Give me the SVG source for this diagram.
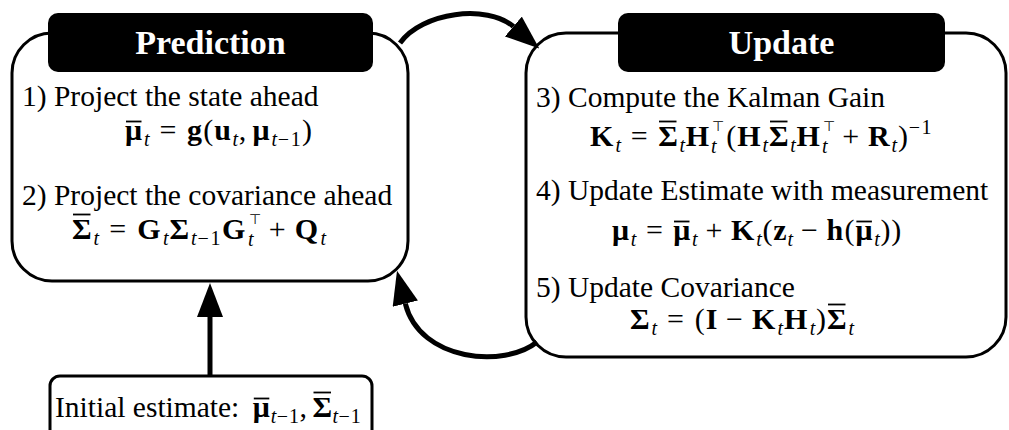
<svg xmlns="http://www.w3.org/2000/svg" width="1009" height="430" viewBox="0 0 1009 430">
  <defs>
    <style>
      .box { fill: #fff; stroke: #000; stroke-width: 3; }
      .hdr { fill: #000; }
      .title { font-family: "Liberation Serif", "Times New Roman", serif; font-weight: bold; font-size: 34px; fill: #fff; text-anchor: middle; }
      .txt { font-family: "Liberation Serif", "Times New Roman", serif; font-size: 29.5px; fill: #000; }
      .m { font-family: "Liberation Serif", "Times New Roman", serif; font-size: 30px; fill: #000; }
      .b { font-weight: bold; }
      .s { font-size: 20px; font-style: italic; }
      .sn { font-size: 20px; }
      .tp { font-family: "DejaVu Sans", sans-serif; font-size: 14px; }
      .bar { stroke: #000; stroke-width: 1.8; }
      .arr { fill: none; stroke: #000; stroke-width: 5; marker-end: url(#head); }
    </style>
    <marker id="head" markerUnits="userSpaceOnUse" viewBox="0 0 34 26" markerWidth="34" markerHeight="26" refX="0" refY="13" orient="auto">
      <path d="M0,0 L34,13 L0,26 Z" fill="#000"/>
    </marker>
  </defs>

  <!-- prediction step -->
  <g id="prediction">
    <rect class="box" x="12" y="33" width="396" height="248" rx="40" ry="40"/>
    <rect class="hdr" x="48" y="13" width="325" height="59" rx="10" ry="10"/>
    <text class="title" x="210.5" y="54">Prediction</text>
    <text class="txt" x="22" y="106">1) Project the state ahead</text>
    <text class="m">
      <tspan class="b" x="125" y="140">μ</tspan><tspan class="s" x="144" y="146">t</tspan>
      <tspan x="159.4" y="140">=</tspan>
      <tspan class="b" x="186.9" y="140">g</tspan><tspan x="203.3" y="140">(</tspan><tspan class="b" x="214.2" y="140">u</tspan><tspan class="s" x="232.5" y="146">t</tspan><tspan x="238.8" y="140">,</tspan>
      <tspan class="b" x="252.4" y="140">μ</tspan><tspan class="s" x="271.4" y="146">t</tspan><tspan class="sn" x="277.8" y="146">−</tspan><tspan class="sn" x="290.7" y="146">1</tspan><tspan x="302.1" y="140">)</tspan>
    </text>
    <line class="bar" x1="126" y1="121.5" x2="141.5" y2="121.5"/>
    <text class="txt" x="22" y="205">2) Project the covariance ahead</text>
    <text class="m">
      <tspan class="b" x="72" y="239">Σ</tspan><tspan class="s" x="93.6" y="245">t</tspan>
      <tspan x="109.2" y="239">=</tspan>
      <tspan class="b" x="137.2" y="239">G</tspan><tspan class="s" x="163" y="245">t</tspan>
      <tspan class="b" x="169.4" y="239">Σ</tspan><tspan class="s" x="191" y="245">t</tspan><tspan class="sn" x="197.4" y="245">−</tspan><tspan class="sn" x="210.5" y="245">1</tspan>
      <tspan class="b" x="222.1" y="239">G</tspan><tspan class="s" x="248" y="246">t</tspan><tspan class="tp" x="249" y="224">⊤</tspan>
      <tspan x="268.7" y="239">+</tspan>
      <tspan class="b" x="294.8" y="239">Q</tspan><tspan class="s" x="320.6" y="245">t</tspan>
    </text>
    <line class="bar" x1="73" y1="214.5" x2="90.5" y2="214.5"/>
  </g>

  <!-- update step -->
  <g id="update">
    <rect class="box" x="526" y="33" width="480" height="324" rx="40" ry="40"/>
    <rect class="hdr" x="618" y="13" width="327" height="59" rx="10" ry="10"/>
    <text class="title" x="781.5" y="54">Update</text>
    <text class="txt" x="536" y="107">3) Compute the Kalman Gain</text>
    <text class="m">
      <tspan class="b" x="590" y="146">K</tspan><tspan class="s" x="615.4" y="152">t</tspan>
      <tspan x="630.7" y="146">=</tspan>
      <tspan class="b" x="658.2" y="146">Σ</tspan><tspan class="s" x="679.4" y="152">t</tspan>
      <tspan class="b" x="685.7" y="146">H</tspan><tspan class="s" x="711.1" y="153">t</tspan><tspan class="tp" x="712.1" y="131">⊤</tspan>
      <tspan x="726.3" y="146">(</tspan><tspan class="b" x="737.2" y="146">H</tspan><tspan class="s" x="762.6" y="152">t</tspan>
      <tspan class="b" x="768.9" y="146">Σ</tspan><tspan class="s" x="790.2" y="152">t</tspan>
      <tspan class="b" x="796.5" y="146">H</tspan><tspan class="s" x="821.9" y="153">t</tspan><tspan class="tp" x="822.9" y="131">⊤</tspan>
      <tspan x="842.2" y="146">+</tspan>
      <tspan class="b" x="867.9" y="146">R</tspan><tspan class="s" x="891.5" y="152">t</tspan><tspan x="897.9" y="146">)</tspan>
      <tspan class="sn" x="908.8" y="134">−</tspan><tspan class="sn" x="921.6" y="134">1</tspan>
    </text>
    <line class="bar" x1="659" y1="121.5" x2="676.5" y2="121.5"/>
    <line class="bar" x1="770" y1="121.5" x2="787.5" y2="121.5"/>
    <text class="txt" x="536" y="200">4) Update Estimate with measurement</text>
    <text class="m">
      <tspan class="b" x="612" y="240">μ</tspan><tspan class="s" x="630.8" y="246">t</tspan>
      <tspan x="646" y="240">=</tspan>
      <tspan class="b" x="673.2" y="240">μ</tspan><tspan class="s" x="692" y="246">t</tspan>
      <tspan x="705.5" y="240">+</tspan>
      <tspan class="b" x="731" y="240">K</tspan><tspan class="s" x="756.2" y="246">t</tspan><tspan x="762.4" y="240">(</tspan>
      <tspan class="b" x="773.2" y="240">z</tspan><tspan class="s" x="787.6" y="246">t</tspan>
      <tspan x="801.1" y="240">−</tspan>
      <tspan class="b" x="826.6" y="240">h</tspan><tspan x="844.6" y="240">(</tspan>
      <tspan class="b" x="855.4" y="240">μ</tspan><tspan class="s" x="874.2" y="246">t</tspan><tspan x="880.5" y="240">)</tspan><tspan x="891.3" y="240">)</tspan>
    </text>
    <line class="bar" x1="674" y1="221.5" x2="689.5" y2="221.5"/>
    <line class="bar" x1="856.4" y1="221.5" x2="871.9" y2="221.5"/>
    <text class="txt" x="536" y="297">5) Update Covariance</text>
    <text class="m">
      <tspan class="b" x="630" y="329">Σ</tspan><tspan class="s" x="651.5" y="335">t</tspan>
      <tspan x="667" y="329">=</tspan>
      <tspan x="694.7" y="329">(</tspan><tspan class="b" x="705.7" y="329">I</tspan>
      <tspan x="726" y="329">−</tspan>
      <tspan class="b" x="752" y="329">K</tspan><tspan class="s" x="777.6" y="335">t</tspan>
      <tspan class="b" x="784" y="329">H</tspan><tspan class="s" x="809.7" y="335">t</tspan><tspan x="816.1" y="329">)</tspan>
      <tspan class="b" x="827.1" y="329">Σ</tspan><tspan class="s" x="848.5" y="335">t</tspan>
    </text>
    <line class="bar" x1="828" y1="304.5" x2="845.5" y2="304.5"/>
  </g>

  <!-- initial estimate -->
  <g id="initial">
    <rect class="box" x="50" y="376" width="322" height="70" rx="10" ry="10"/>
    <text class="txt" x="55" y="417">Initial estimate:</text>
    <text class="m">
      <tspan class="b" x="252.8" y="417">μ</tspan><tspan class="s" x="270.7" y="423">t</tspan><tspan class="sn" x="276.7" y="423">−</tspan><tspan class="sn" x="288.9" y="423">1</tspan><tspan x="299.6" y="417">,</tspan>
      <tspan class="b" x="312.5" y="417">Σ</tspan><tspan class="s" x="332.6" y="423">t</tspan><tspan class="sn" x="338.6" y="423">−</tspan><tspan class="sn" x="350.7" y="423">1</tspan>
    </text>
    <line class="bar" x1="253.8" y1="398.5" x2="269.3" y2="398.5"/>
    <line class="bar" x1="313.5" y1="392.5" x2="331" y2="392.5"/>
  </g>

  <!-- connectors -->
  <g id="connectors">
    <path class="arr" d="M400,43 C422,12 487,4 513.4,26.5"/>
    <path class="arr" d="M537,342 C505,368 420,362 405.3,303.6"/>
    <path class="arr" d="M210,376 L210,317"/>
  </g>
</svg>
